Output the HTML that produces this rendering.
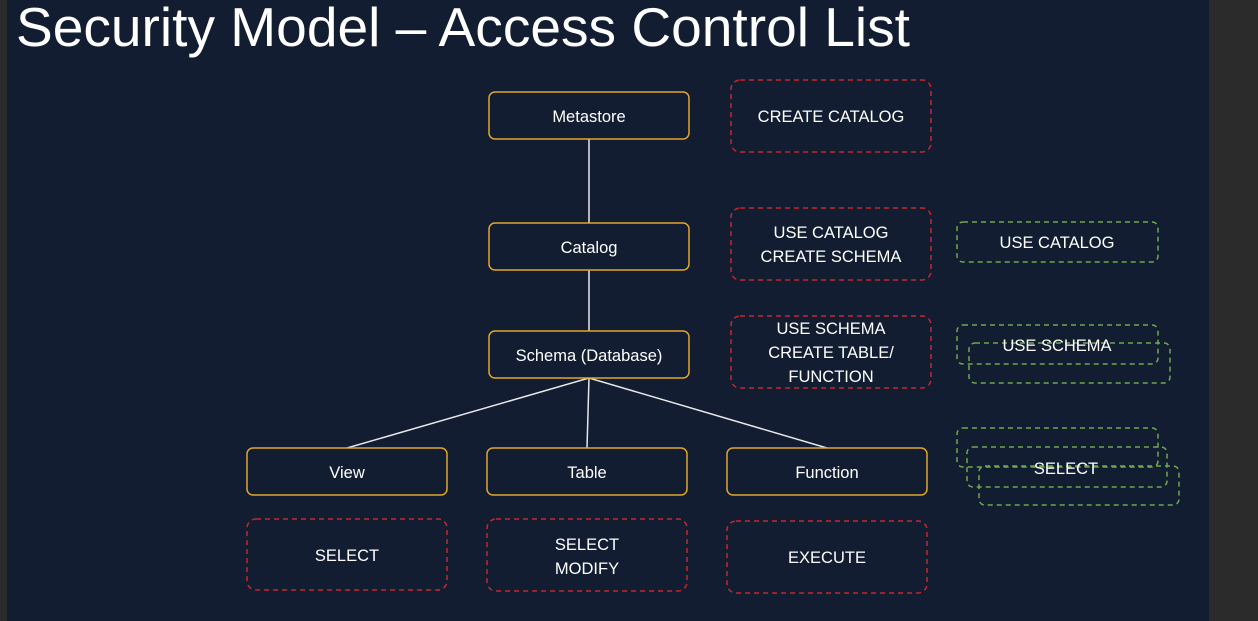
<!DOCTYPE html>
<html><head><meta charset="utf-8"><style>
html,body{margin:0;padding:0;width:1258px;height:621px;overflow:hidden;background:#2b2b2b}
svg{display:block}
text{font-family:"Liberation Sans",sans-serif;fill:#fff}
</style></head><body>
<svg width="1258" height="621" viewBox="0 0 1258 621">
<rect x="0" y="0" width="1258" height="621" fill="#2b2b2b"/>
<rect x="7" y="0" width="1202" height="621" fill="#121d32"/>
<text x="16" y="46" font-size="55" textLength="894" lengthAdjust="spacingAndGlyphs">Security Model – Access Control List</text>
<g stroke="#e8e8e8" stroke-width="1.5" fill="none">
<line x1="589" y1="139" x2="589" y2="223"/>
<line x1="589" y1="270" x2="589" y2="331"/>
<line x1="589" y1="378" x2="347" y2="448"/>
<line x1="589" y1="378" x2="587" y2="448"/>
<line x1="589" y1="378" x2="827" y2="448"/>
</g>
<g stroke="#e1a52a" stroke-width="1.5" fill="#121d32">
<rect x="489" y="92" width="200" height="47" rx="6"/>
<rect x="489" y="223" width="200" height="47" rx="6"/>
<rect x="489" y="331" width="200" height="47" rx="6"/>
<rect x="247" y="448" width="200" height="47" rx="6"/>
<rect x="487" y="448" width="200" height="47" rx="6"/>
<rect x="727" y="448" width="200" height="47" rx="6"/>
</g>
<g stroke="#c3282e" stroke-width="1.5" fill="none" stroke-dasharray="5,4">
<rect x="731" y="80" width="200" height="72" rx="9"/>
<rect x="731" y="208" width="200" height="72" rx="9"/>
<rect x="731" y="316" width="200" height="72" rx="9"/>
<rect x="247" y="519" width="200" height="71" rx="9"/>
<rect x="487" y="519" width="200" height="72" rx="9"/>
<rect x="727" y="521" width="200" height="72" rx="9"/>
</g>
<g stroke="#6fa84c" stroke-width="1.5" fill="none" stroke-dasharray="5,4">
<rect x="957" y="222" width="201" height="40" rx="6"/>
<rect x="957" y="325" width="201" height="39" rx="6"/>
<rect x="969" y="343" width="201" height="40" rx="6"/>
<rect x="957" y="428" width="201" height="39" rx="6"/>
<rect x="967" y="447" width="200" height="40" rx="6"/>
<rect x="979" y="466" width="200" height="39" rx="6"/>
</g>
<g font-size="16.5" text-anchor="middle">
<text x="589" y="122">Metastore</text>
<text x="589" y="253">Catalog</text>
<text x="589" y="361">Schema (Database)</text>
<text x="347" y="478">View</text>
<text x="587" y="478">Table</text>
<text x="827" y="478">Function</text>
<text x="831" y="122">CREATE CATALOG</text>
<text x="831" y="238">USE CATALOG</text>
<text x="831" y="262">CREATE SCHEMA</text>
<text x="831" y="334">USE SCHEMA</text>
<text x="831" y="358">CREATE TABLE/</text>
<text x="831" y="382">FUNCTION</text>
<text x="347" y="561">SELECT</text>
<text x="587" y="550">SELECT</text>
<text x="587" y="574">MODIFY</text>
<text x="827" y="563">EXECUTE</text>
<text x="1057" y="248">USE CATALOG</text>
<text x="1057" y="351">USE SCHEMA</text>
<text x="1066" y="474">SELECT</text>
</g>
</svg>
</body></html>
